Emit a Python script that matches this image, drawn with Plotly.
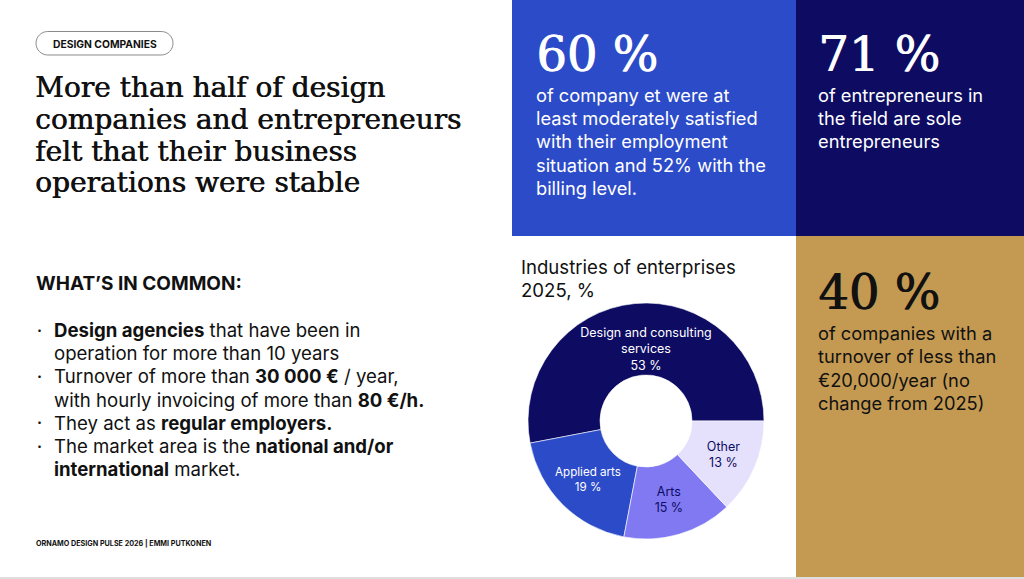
import plotly.graph_objects as go

W, H = 1024, 579
SANS = "Inter"
SERIF = "DejaVu Serif"

# ── Data ────────────────────────────────────────────────────────────────────
industries = ["Design and consulting<br>services", "Applied arts", "Arts", "Other"]
shares = [53, 19, 15, 13]
slice_colors = ["#0D0C62", "#2C4BC8", "#8079F2", "#E5E1FC"]
slice_text_colors = ["white", "white", "#0D0C62", "#0D0C62"]

tag_text = "DESIGN COMPANIES"
headline = [
    "More than half of design",
    "companies and entrepreneurs",
    "felt that their business",
    "operations were stable",
]
common_title = "WHAT’S IN COMMON:"
bullet_lines = [
    "<b>Design agencies</b> that have been in",
    "operation for more than 10 years",
    "Turnover of more than <b>30 000 €</b> / year,",
    "with hourly invoicing of more than <b>80 €/h.</b>",
    "They act as <b>regular employers.</b>",
    "The market area is the <b>national and/or</b>",
    "<b>international</b> market.",
]
bullet_starts = [0, 2, 4, 5]
footer = "ORNAMO DESIGN PULSE 2026 | EMMI PUTKONEN"

stat_values = ["60 %", "71 %", "40 %"]
stat_texts = [
    ["of company et were at", "least moderately satisfied", "with their employment",
     "situation and 52% with the", "billing level."],
    ["of entrepreneurs in", "the field are sole", "entrepreneurs"],
    ["of companies with a", "turnover of less than", "€20,000/year (no",
     "change from 2025)"],
]
chart_title = ["Industries of enterprises", "2025, %"]


def px(x):
    return x / W


def py(y):
    return 1 - y / H


fig = go.Figure()

# donut, centred at (646, 421) px with radius 118 px.
# first slice ends (clockwise) at 3 o'clock, the rest run counter-clockwise
cx, cy, r = 646, 421, 118
first_angle = 360 * shares[0] / sum(shares)
fig.add_trace(
    go.Pie(
        labels=industries,
        values=shares,
        sort=False,
        direction="counterclockwise",
        rotation=90 - first_angle,
        hole=0.39,
        marker=dict(colors=slice_colors, line=dict(color="white", width=0.6)),
        texttemplate="%{label}<br>%{value} %",
        textposition="inside",
        insidetextorientation="horizontal",
        insidetextfont=dict(family=SANS, size=12.5, color=slice_text_colors),
        hoverinfo="label+value",
        showlegend=False,
        domain=dict(x=[px(cx - r), px(cx + r)], y=[py(cy + r), py(cy - r)]),
    )
)


# ── Background panels ───────────────────────────────────────────────────────
def rect(x0, y0, x1, y1, color):
    fig.add_shape(type="rect", xref="paper", yref="paper",
                  x0=px(x0), x1=px(x1), y0=py(y1), y1=py(y0),
                  fillcolor=color, line=dict(width=0), layer="below")


rect(512, 0, 796, 236, "#2C4BC8")
rect(796, 0, 1024, 236, "#0D0C62")
rect(796, 236, 1024, 577, "#C49A52")
rect(0, 577, 1024, 579, "#DEDEDE")

# pill around the tag
x0, x1, y0, y1, rr = 36, 173, 31.5, 55, 11.75
k = 0.5523 * rr


def p(x, y):
    return f"{px(x):.5f},{py(y):.5f}"


pill = (
    f"M {p(x0 + rr, y0)} L {p(x1 - rr, y0)} "
    f"C {p(x1 - rr + k, y0)} {p(x1, y0 + rr - k)} {p(x1, y0 + rr)} "
    f"C {p(x1, y0 + rr + k)} {p(x1 - rr + k, y1)} {p(x1 - rr, y1)} "
    f"L {p(x0 + rr, y1)} "
    f"C {p(x0 + rr - k, y1)} {p(x0, y0 + rr + k)} {p(x0, y0 + rr)} "
    f"C {p(x0, y0 + rr - k)} {p(x0 + rr - k, y0)} {p(x0 + rr, y0)} Z"
)
fig.add_shape(type="path", xref="paper", yref="paper", path=pill,
              line=dict(color="#8A8A8A", width=1))


# ── Text ────────────────────────────────────────────────────────────────────
def label(text, x, y, size, color="#111111", family=SANS, anchor="left", shadow=None):
    font = dict(family=family, size=size, color=color)
    if shadow:
        font["shadow"] = shadow
    fig.add_annotation(x=px(x), y=py(y), xref="paper", yref="paper", text=text,
                       showarrow=False, xanchor=anchor, yanchor="middle",
                       font=font, borderpad=0)


def block(lines, x, y, step, size, color="#111111", family=SANS, shadow=None):
    for i, line in enumerate(lines):
        label(line, x, y + i * step, size, color, family, shadow=shadow)


label(f"<b>{tag_text}</b>", 104.5, 43.5, 10.3, anchor="center")
block(headline, 34, 88, 31.5, 28, "#111111", SERIF, shadow="0.6px 0px 0px #111111")
label(f"<b>{common_title}</b>", 35, 283, 19)
block(bullet_lines, 53, 330, 23.2, 18.6)
for i in bullet_starts:
    label("<b>·</b>", 36, 330 + i * 23.2, 15)
label(f"<b>{footer}</b>", 35, 543, 7.2)

label(stat_values[0], 535, 54, 48, "white", SERIF, shadow="1px 0px 0px #FFFFFF")
block(stat_texts[0], 535, 95, 23.2, 18.3, "white")
label(stat_values[1], 817, 54, 48, "white", SERIF, shadow="1px 0px 0px #FFFFFF")
block(stat_texts[1], 817, 95, 23.2, 18.3, "white")
label(stat_values[2], 817, 292, 48, "#111111", SERIF, shadow="1px 0px 0px #111111")
block(stat_texts[2], 817, 333, 23.3, 18.3, "#111111")

block(chart_title, 520, 267, 23, 18.6, "#111111")

fig.update_layout(
    width=W,
    height=H,
    margin=dict(l=0, r=0, t=0, b=0),
    paper_bgcolor="white",
    plot_bgcolor="white",
    font=dict(family=SANS),
)

fig.write_html("out.html", config={"displayModeBar": False},
               post_script="document.body.style.margin='0';")
